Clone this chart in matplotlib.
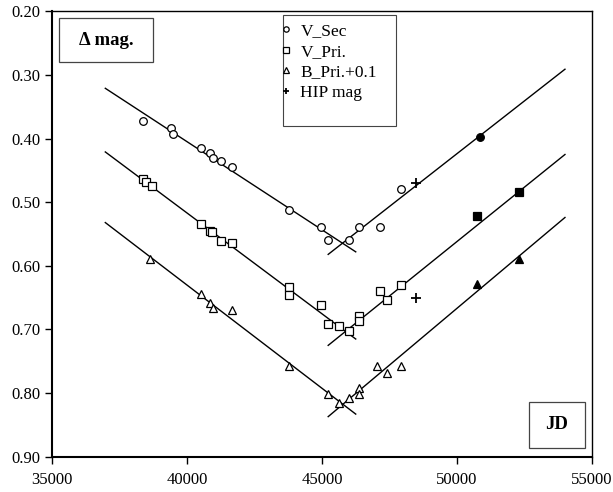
import matplotlib
matplotlib.use("Agg")
import matplotlib.pyplot as plt
from matplotlib.patches import Rectangle

plt.rcParams['font.family'] = ['Liberation Serif', 'DejaVu Serif']

# V_Sec (open circles) and the later filled point
vsec_x = [38380, 39400, 39490, 40530, 40850, 40950, 41250, 41680, 43770,
          44950, 45230, 46000, 46380, 47150, 47920]
vsec_y = [0.372, 0.383, 0.393, 0.415, 0.422, 0.431, 0.435, 0.444, 0.512,
          0.539, 0.559, 0.559, 0.539, 0.539, 0.479]
vsec_fill_x = [50850]
vsec_fill_y = [0.398]

# V_Pri.
vpri_x = [38380, 38470, 38720, 40530, 40850, 40940, 41250, 41680, 43790, 43790,
          44950, 45230, 45630, 46000, 46380, 46380, 47150, 47400, 47940]
vpri_y = [0.464, 0.468, 0.474, 0.535, 0.546, 0.547, 0.561, 0.564, 0.634, 0.646,
          0.662, 0.691, 0.695, 0.703, 0.679, 0.686, 0.640, 0.654, 0.630]
vpri_fill_x = [50740, 52300]
vpri_fill_y = [0.522, 0.484]

# B_Pri.+0.1
bpri_x = [38620, 40530, 40850, 40950, 41680, 43790, 45230, 45630, 46000,
          46380, 46380, 47050, 47400, 47940]
bpri_y = [0.589, 0.645, 0.659, 0.667, 0.670, 0.758, 0.801, 0.815, 0.808,
          0.792, 0.801, 0.758, 0.769, 0.758]
bpri_fill_x = [50740, 52300]
bpri_fill_y = [0.628, 0.589]

# HIP mag
hip_x = [48480, 48480]
hip_y = [0.470, 0.651]

# trend lines (start/end) : descending and ascending branches
desc_x = [36975, 46250]
asc_x = [45230, 54000]
vsec_desc = [0.321, 0.578]
vsec_asc = [0.582, 0.291]
vpri_desc = [0.421, 0.715]
vpri_asc = [0.725, 0.425]
bpri_desc = [0.532, 0.833]
bpri_asc = [0.837, 0.524]

fig = plt.figure(figsize=(6.13, 4.92), dpi=100)
ax = fig.add_axes([0.0848, 0.0717, 0.8809, 0.9053])

for yd, ya in [(vsec_desc, vsec_asc), (vpri_desc, vpri_asc), (bpri_desc, bpri_asc)]:
    ax.plot(desc_x, yd, color='black', lw=1.0)
    ax.plot(asc_x, ya, color='black', lw=1.0)

mk = dict(ls='none', ms=5.5, mew=0.9, mec='black')
ax.plot(vsec_x, vsec_y, marker='o', mfc='white', label='V_Sec', **mk)
ax.plot(vpri_x, vpri_y, marker='s', mfc='white', label='V_Pri.', **mk)
ax.plot(bpri_x, bpri_y, marker='^', mfc='white', label='B_Pri.+0.1', **mk)
ax.plot(hip_x, hip_y, marker='+', color='black', ls='none', ms=7, mew=1.3,
        label='HIP mag')
ax.plot(vsec_fill_x, vsec_fill_y, marker='o', mfc='black', **mk)
ax.plot(vpri_fill_x, vpri_fill_y, marker='s', mfc='black', **mk)
ax.plot(bpri_fill_x, bpri_fill_y, marker='^', mfc='black', **mk)

ax.set_xlim(35000, 55000)
ax.set_ylim(0.90, 0.20)
ax.set_xticks([35000, 40000, 45000, 50000, 55000])
ax.set_yticks([0.2, 0.3, 0.4, 0.5, 0.6, 0.7, 0.8, 0.9])
ax.set_yticklabels(['0.20', '0.30', '0.40', '0.50', '0.60', '0.70', '0.80', '0.90'])
ax.tick_params(labelsize=12, direction='out', length=5, width=1.0)
ax.tick_params(axis='x', pad=6)
for s in ax.spines.values():
    s.set_linewidth(1.0)
ax.spines['left'].set_linewidth(1.5)
ax.spines['bottom'].set_linewidth(1.5)

# legend frame drawn separately (excel-style loose bottom padding)
ax.add_patch(Rectangle((0.4272, 0.7425), 0.2098, 0.2492, transform=ax.transAxes,
                       fc='white', ec='#444444', lw=0.8, zorder=4))
leg = ax.legend(loc='upper left', bbox_to_anchor=(0.4245, 0.973), frameon=False,
                fontsize=12.5, markerscale=0.7, handlelength=0.6,
                handletextpad=0.5, borderpad=0, labelspacing=0.25,
                borderaxespad=0)
leg.set_zorder(5)

# label boxes
ax.add_patch(Rectangle((0.0135, 0.8868), 0.1741, 0.0975, transform=ax.transAxes,
                       fc='white', ec='#444444', lw=0.9, zorder=4))
ax.text(0.1, 0.9356, '\u0394 mag.', transform=ax.transAxes, fontsize=13.5,
        fontweight='bold', ha='center', va='center', zorder=5)
ax.add_patch(Rectangle((0.8839, 0.0189), 0.1031, 0.1033, transform=ax.transAxes,
                       fc='white', ec='#444444', lw=0.9, zorder=4))
ax.text(0.9352, 0.0714, 'JD', transform=ax.transAxes, fontsize=13.5,
        fontweight='bold', ha='center', va='center', zorder=5)

fig.savefig('out.png', dpi=100)
